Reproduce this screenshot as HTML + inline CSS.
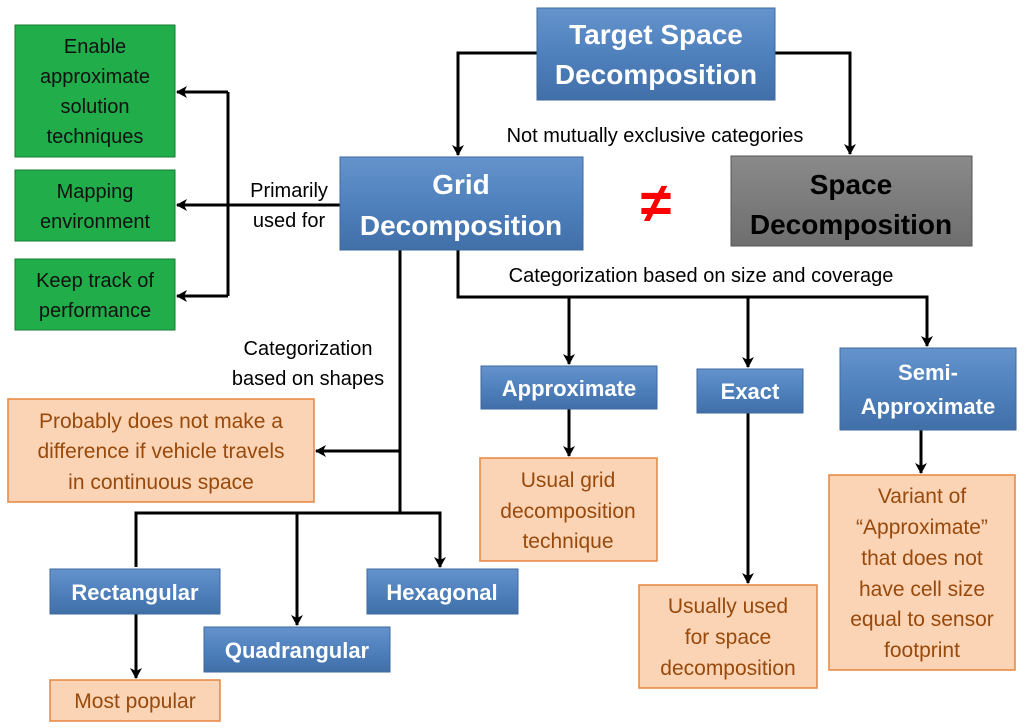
<!DOCTYPE html>
<html><head><meta charset="utf-8"><style>
body{margin:0;background:#fff;}
svg{display:block;font-family:"Liberation Sans",sans-serif;}
.b{fill:url(#bl);stroke:#3d6a9e;stroke-width:1;}
.o{fill:#fbd4b6;stroke:#e7853f;stroke-width:1.5;}
.g{fill:#20ad4a;stroke:#167a33;stroke-width:1;}
.wt{fill:#fff;font-weight:bold;text-anchor:middle;}
.ot{fill:#984a0c;text-anchor:middle;font-size:21px;}
.gt{fill:#111;text-anchor:middle;font-size:20px;}
.ln{stroke:#000;stroke-width:3;fill:none;}
.lt{fill:#000;font-size:20px;}
</style></head><body>
<svg width="1024" height="728" viewBox="0 0 1024 728">
<defs>
<linearGradient id="bl" x1="0" y1="0" x2="0" y2="1"><stop offset="0" stop-color="#6593cc"/><stop offset="0.5" stop-color="#4f81bd"/><stop offset="1" stop-color="#416fa8"/></linearGradient>
<linearGradient id="gr" x1="0" y1="0" x2="0" y2="1"><stop offset="0" stop-color="#8a8a8a"/><stop offset="1" stop-color="#6e6e6e"/></linearGradient>
<marker id="a" markerWidth="8" markerHeight="8" refX="6" refY="4" orient="auto" markerUnits="userSpaceOnUse"><path d="M0,0 L8,4 L0,8 Z" fill="#000"/></marker>
<marker id="a2" markerWidth="12" markerHeight="12" refX="10" refY="6" orient="auto" markerUnits="userSpaceOnUse"><path d="M0,0 L11,6 L0,12 L3,6 Z" fill="#000"/></marker>
</defs>
<!-- connectors -->
<path class="ln" d="M537,53 H458 V155" marker-end="url(#a2)"/>
<path class="ln" d="M775,53 H850 V154" marker-end="url(#a2)"/>
<path class="ln" d="M340,205 H177" marker-end="url(#a2)"/>
<path class="ln" d="M228,92 V296"/>
<path class="ln" d="M228,92 H177" marker-end="url(#a2)"/>
<path class="ln" d="M228,296 H177" marker-end="url(#a2)"/>
<path class="ln" d="M400,250 V513"/>
<path class="ln" d="M400,451 H316" marker-end="url(#a2)"/>
<path class="ln" d="M458,250 V297 H927 V346" marker-end="url(#a2)"/>
<path class="ln" d="M569,297 V364" marker-end="url(#a2)"/>
<path class="ln" d="M748,297 V367" marker-end="url(#a2)"/>
<path class="ln" d="M136,567 V513 H440 V567" marker-end="url(#a2)"/>
<path class="ln" d="M297,513 V625" marker-end="url(#a2)"/>
<path class="ln" d="M136,614 V678" marker-end="url(#a2)"/>
<path class="ln" d="M569,409 V456" marker-end="url(#a2)"/>
<path class="ln" d="M748,413 V583" marker-end="url(#a2)"/>
<path class="ln" d="M921,430 V473" marker-end="url(#a2)"/>
<!-- blue boxes -->
<rect class="b" x="537" y="8" width="238" height="92"/>
<text class="wt" font-size="28" x="656" y="44">Target Space</text>
<text class="wt" font-size="28" x="656" y="84">Decomposition</text>
<rect class="b" x="340" y="157" width="243" height="93"/>
<text class="wt" font-size="28" x="461" y="194">Grid</text>
<text class="wt" font-size="28" x="461" y="235">Decomposition</text>
<rect x="731" y="156" width="241" height="90" fill="url(#gr)" stroke="#555"/>
<text font-size="28" font-weight="bold" text-anchor="middle" x="851" y="194">Space</text>
<text font-size="28" font-weight="bold" text-anchor="middle" x="851" y="234">Decomposition</text>
<text x="656" y="222" font-size="56" fill="#ff0000" text-anchor="middle" font-weight="bold">≠</text>
<rect class="b" x="481" y="366" width="176" height="43"/><text class="wt" font-size="22" x="569" y="396">Approximate</text>
<rect class="b" x="697" y="369" width="106" height="44"/><text class="wt" font-size="22" x="750" y="399">Exact</text>
<rect class="b" x="840" y="348" width="176" height="82"/><text class="wt" font-size="22" x="928" y="380">Semi-</text><text class="wt" font-size="22" x="928" y="414">Approximate</text>
<rect class="b" x="50" y="569" width="170" height="45"/><text class="wt" font-size="22" x="135" y="600">Rectangular</text>
<rect class="b" x="204" y="627" width="186" height="45"/><text class="wt" font-size="22" x="297" y="658">Quadrangular</text>
<rect class="b" x="367" y="569" width="151" height="45"/><text class="wt" font-size="22" x="442" y="600">Hexagonal</text>
<!-- green -->
<rect class="g" x="15" y="25" width="160" height="132"/>
<text class="gt" x="95" y="53">Enable</text><text class="gt" x="95" y="83">approximate</text><text class="gt" x="95" y="113">solution</text><text class="gt" x="95" y="143">techniques</text>
<rect class="g" x="15" y="170" width="160" height="71"/>
<text class="gt" x="95" y="198">Mapping</text><text class="gt" x="95" y="228">environment</text>
<rect class="g" x="15" y="259" width="160" height="71"/>
<text class="gt" x="95" y="287">Keep track of</text><text class="gt" x="95" y="317">performance</text>
<!-- orange -->
<rect class="o" x="8" y="399" width="306" height="103"/>
<text class="ot" x="161" y="428">Probably does not make a</text><text class="ot" x="161" y="458">difference if vehicle travels</text><text class="ot" x="161" y="489">in continuous space</text>
<rect class="o" x="480" y="458" width="177" height="103"/>
<text class="ot" x="568" y="487">Usual grid</text><text class="ot" x="568" y="518">decomposition</text><text class="ot" x="568" y="548">technique</text>
<rect class="o" x="639" y="585" width="178" height="103"/>
<text class="ot" x="728" y="613">Usually used</text><text class="ot" x="728" y="644">for space</text><text class="ot" x="728" y="675">decomposition</text>
<rect class="o" x="829" y="475" width="186" height="195"/>
<text class="ot" x="922" y="503">Variant of</text><text class="ot" x="922" y="534">“Approximate”</text><text class="ot" x="922" y="565">that does not</text><text class="ot" x="922" y="596">have cell size</text><text class="ot" x="922" y="626">equal to sensor</text><text class="ot" x="922" y="657">footprint</text>
<rect class="o" x="50" y="680" width="170" height="41"/>
<text class="ot" x="135" y="708">Most popular</text>
<!-- labels -->
<text class="lt" x="655" y="142" text-anchor="middle">Not mutually exclusive categories</text>
<text class="lt" x="289" y="197" text-anchor="middle">Primarily</text>
<text class="lt" x="289" y="227" text-anchor="middle">used for</text>
<text class="lt" x="701" y="282" text-anchor="middle">Categorization based on size and coverage</text>
<text class="lt" x="308" y="355" text-anchor="middle">Categorization</text>
<text class="lt" x="308" y="385" text-anchor="middle">based on shapes</text>
</svg>
</body></html>
